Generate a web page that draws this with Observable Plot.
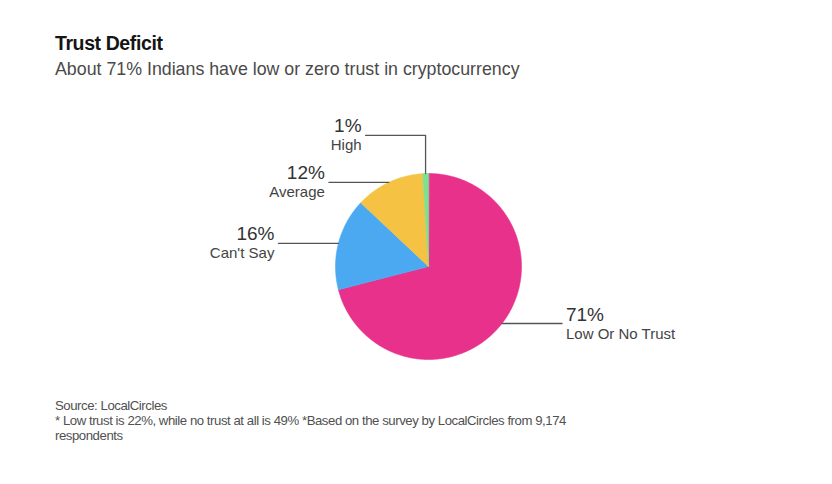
<!DOCTYPE html>
<html>
<head>
<meta charset="utf-8">
<script src="https://cdn.jsdelivr.net/npm/d3@7"></script>
<script src="https://cdn.jsdelivr.net/npm/@observablehq/plot@0.6"></script>
<style>
  html, body { margin: 0; padding: 0; background: #fff; }
  body { width: 832px; height: 484px; position: relative; overflow: hidden;
         font-family: "Liberation Sans", Arial, Helvetica, sans-serif; }
  #title { position: absolute; left: 55px; top: 32px; font-size: 19.5px; line-height: 22px;
           font-weight: bold; color: #151515; letter-spacing: -0.4px; }
  #subtitle { position: absolute; left: 55px; top: 58px; font-size: 17.8px; line-height: 22px;
              color: #4a4a4a; }
  #chart { position: absolute; left: 0; top: 95px; }
  #footer { position: absolute; left: 55px; top: 398px; font-size: 13.2px; line-height: 15px;
            color: #505050; letter-spacing: -0.45px; }
</style>
</head>
<body>
<div id="title">Trust Deficit</div>
<div id="subtitle">About 71% Indians have low or zero trust in cryptocurrency</div>
<div id="chart"></div>
<div id="footer">Source: LocalCircles<br>* Low trust is 22%, while no trust at all is 49% *Based on the survey by LocalCircles from 9,174<br>respondents</div>
<script>
// ---- data ----
const categories = ["Low Or No Trust", "Can't Say", "Average", "High"];
const shares = [71, 16, 12, 1];

// ---- styles ----
const sliceColors = ["#e8318a", "#4ba9f2", "#f5c243", "#7de28f"];

// ---- geometry (pixel units around the pie centre) ----
const W = 832, H = 290;
const R = 93;            // pie radius
const cx = 428, cy = 171; // centre inside the svg
const leader = 60;       // horizontal leader length
const minGap = 47;       // min vertical gap between stacked labels

const rows = categories.map((c, i) => ({category: c, share: shares[i]}));
const arcs = d3.pie().sort(null).value(d => d.share)(rows);

// slice polygons
const wedgePts = [];
for (const a of arcs) {
  const steps = Math.max(2, Math.ceil((a.endAngle - a.startAngle) / (Math.PI / 360)));
  wedgePts.push({category: a.data.category, x: 0, y: 0});
  for (let k = 0; k <= steps; k++) {
    const t = a.startAngle + (a.endAngle - a.startAngle) * k / steps;
    wedgePts.push({category: a.data.category, x: R * Math.sin(t), y: R * Math.cos(t)});
  }
}

// labels, anchored at each slice's mid-angle on the rim
const labels = arcs.map(a => {
  const m = (a.startAngle + a.endAngle) / 2;
  const ax = R * Math.sin(m), ay = R * Math.cos(m);
  const side = ax >= 0 ? 1 : -1;
  return {category: a.data.category, share: a.data.share, ax, ay, side, ly: ay};
});
// dodge labels on each side upward so they don't collide
for (const side of [-1, 1]) {
  const group = labels.filter(d => d.side === side).sort((p, q) => p.ay - q.ay);
  let prev = -Infinity;
  for (const d of group) {
    d.ly = Math.max(d.ay, prev + minGap);
    prev = d.ly;
  }
}
for (const d of labels) d.ex = d.ax + d.side * leader;

const leaderPts = labels.flatMap(d => [
  {category: d.category, x: d.ax, y: d.ay},
  {category: d.category, x: d.ax, y: d.ly},
  {category: d.category, x: d.ex, y: d.ly}
]);

const textMarks = [];
for (const side of [-1, 1]) {
  const sub = labels.filter(d => d.side === side);
  const anchor = side < 0 ? "end" : "start";
  textMarks.push(
    Plot.text(sub, {x: "ex", y: "ly", text: d => d.share + "%", textAnchor: anchor,
      lineAnchor: "bottom", dx: side * 4, dy: -3, fontSize: 19, fill: "#333"}),
    Plot.text(sub, {x: "ex", y: "ly", text: "category", textAnchor: anchor,
      lineAnchor: "bottom", dx: side * 4, dy: 15, fontSize: 15, fill: "#444"})
  );
}

const chart = Plot.plot({
  width: W,
  height: H,
  margin: 0,
  x: {domain: [-cx, W - cx], range: [0, W], axis: null},
  y: {domain: [-(H - cy), cy], range: [H, 0], axis: null},
  color: {domain: categories, range: sliceColors},
  style: {fontFamily: "'Liberation Sans', Arial, Helvetica, sans-serif", background: "#fff"},
  marks: [
    Plot.line(wedgePts, {x: "x", y: "y", z: "category", fill: "category", stroke: "category",
      strokeWidth: 0.6, curve: "linear-closed"}),
    Plot.line(leaderPts, {x: "x", y: "y", z: "category", stroke: "#555", strokeWidth: 1.3}),
    ...textMarks
  ]
});
document.getElementById("chart").appendChild(chart);
</script>
</body>
</html>
